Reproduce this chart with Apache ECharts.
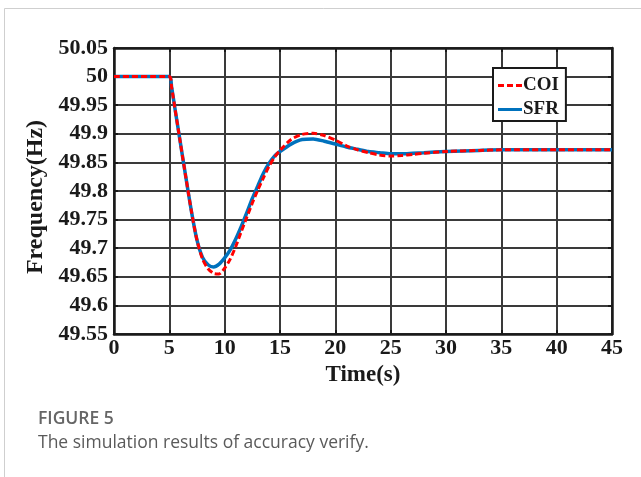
<!DOCTYPE html>
<html lang="en">
<head>
  <meta http-equiv="Content-Type" content="text/html; charset=UTF-8">
  <title>Figure 5</title>
  <style>
    html, body { margin: 0; padding: 0; background: #fff; }
  </style>
</head>
<body>
  <div id="chart" style="width: 641px; height: 477px;"></div>
  <script src="https://cdn.jsdelivr.net/npm/echarts@6/dist/echarts.min.js"></script>
  <script>
    // time axis (s)
    const time = [0, 5, 5.2, 5.5, 6, 6.5, 7, 7.5, 8, 8.5, 9, 9.5, 10, 10.5, 11, 11.5, 12, 12.5, 13, 13.5,
      14, 14.5, 15, 16, 17, 18, 19, 20, 21, 22, 23, 24, 25, 26, 27, 28, 30, 33, 35, 40, 45];
    // frequency of centre of inertia
    const coi = [50, 50, 49.982, 49.945, 49.884, 49.823, 49.764, 49.714, 49.681, 49.664, 49.656, 49.655, 49.665, 49.681, 49.703, 49.729, 49.754, 49.779, 49.802, 49.823,
      49.843, 49.859, 49.871, 49.89, 49.899, 49.901, 49.897, 49.889, 49.879, 49.872, 49.867, 49.863, 49.861, 49.862, 49.864, 49.866, 49.869, 49.871, 49.872, 49.872, 49.872];
    // system frequency response model
    const sfr = [50, 50, 49.982, 49.945, 49.884, 49.823, 49.764, 49.714, 49.684, 49.671, 49.667, 49.672, 49.683, 49.697, 49.716, 49.738, 49.762, 49.787, 49.809, 49.831,
      49.848, 49.861, 49.869, 49.882, 49.89, 49.891, 49.887, 49.882, 49.877, 49.873, 49.869, 49.867, 49.865, 49.865, 49.866, 49.867, 49.869, 49.871, 49.872, 49.872, 49.872];
    const names = ['COI', 'SFR'];

    const serif = '"Liberation Serif", "Times New Roman", serif';
    const sans = '"Open Sans", "Noto Sans", sans-serif';
    const ink = '#1a1a1a';
    const gridColor = '#3a3a3a';

    // legend swatches: dashed red and solid blue
    const dashIcon = 'path://M0,0h6v3h-6z M9,0h6v3h-6z M18,0h6v3h-6z';
    const lineIcon = 'path://M0,0h24v3h-24z';

    const myChart = echarts.init(document.getElementById('chart'));
    const option = {
      animation: false,
      grid: { left: 114, right: 29, top: 48, bottom: 143, containLabel: false },
      legend: {
        data: [{ name: names[0], icon: dashIcon }, { name: names[1], icon: lineIcon }],
        orient: 'vertical',
        left: 493,
        top: 68,
        itemWidth: 24,
        itemHeight: 14,
        itemGap: 5,
        padding: [8, 7, 2, 5],
        backgroundColor: '#fff',
        borderColor: ink,
        borderWidth: 2,
        borderRadius: 0,
        textStyle: { fontFamily: serif, fontWeight: 'bold', fontSize: 19, lineHeight: 18, color: ink, padding: [0, 0, 0, -4] }
      },
      xAxis: [{
        type: 'value',
        min: 0, max: 45, interval: 5,
        name: 'Time(s)',
        nameLocation: 'middle',
        nameGap: 21,
        nameTextStyle: { fontFamily: serif, fontWeight: 'bold', fontSize: 23, color: ink },
        axisLine: { show: true, onZero: false, lineStyle: { color: ink, width: 2.5 } },
        axisTick: { show: true, inside: true, length: 4, lineStyle: { color: ink, width: 2 } },
        axisLabel: { margin: 3, fontFamily: serif, fontWeight: 'bold', fontSize: 22, color: ink },
        splitLine: { show: true, lineStyle: { color: gridColor, width: 2 } }
      }, {
        type: 'value', position: 'top',
        min: 0, max: 45, interval: 5,
        axisLine: { show: true, onZero: false, lineStyle: { color: ink, width: 2.5 } },
        axisTick: { show: true, inside: true, length: 4, lineStyle: { color: ink, width: 2 } },
        axisLabel: { show: false },
        splitLine: { show: false }
      }],
      yAxis: [{
        type: 'value',
        min: 49.55, max: 50.05, interval: 0.05,
        name: 'Frequency(Hz)',
        nameLocation: 'middle',
        nameGap: 64,
        nameTextStyle: { fontFamily: serif, fontWeight: 'bold', fontSize: 24, color: ink, padding: [0, 12, 0, 0] },
        axisLine: { show: true, onZero: false, lineStyle: { color: ink, width: 2.5 } },
        axisTick: { show: true, inside: true, length: 4, lineStyle: { color: ink, width: 2 } },
        axisLabel: {
          margin: 6, fontFamily: serif, fontWeight: 'bold', fontSize: 22, color: ink,
          formatter: (v) => String(+v.toFixed(2))
        },
        splitLine: { show: true, lineStyle: { color: gridColor, width: 2 } }
      }, {
        type: 'value', position: 'right',
        min: 49.55, max: 50.05, interval: 0.05,
        axisLine: { show: true, onZero: false, lineStyle: { color: ink, width: 2.5 } },
        axisTick: { show: true, inside: true, length: 4, lineStyle: { color: ink, width: 2 } },
        axisLabel: { show: false },
        splitLine: { show: false }
      }],
      series: [{
        name: 'SFR',
        type: 'line',
        showSymbol: false,
        symbol: 'none',
        smooth: 0.25,
        lineStyle: { color: '#0072BD', width: 3.5 },
        itemStyle: { color: '#0072BD' },
        data: time.map((t, i) => [t, sfr[i]]),
        z: 2
      }, {
        name: 'COI',
        type: 'line',
        showSymbol: false,
        symbol: 'none',
        smooth: 0.25,
        lineStyle: { color: '#ff0000', width: 3, type: [6, 3] },
        itemStyle: { color: '#ff0000' },
        data: time.map((t, i) => [t, coi[i]]),
        z: 3
      }],
      graphic: [{
        type: 'rect',
        shape: { x: 4.5, y: 8.5, width: 700, height: 600 },
        style: { fill: 'none', stroke: '#cfcfcf', lineWidth: 1 },
        silent: true
      }, {
        type: 'text',
        left: 38, top: 410,
        style: { text: 'FIGURE 5', fontFamily: sans, fontSize: 17.5, fontWeight: 600, fill: '#666' }
      }, {
        type: 'text',
        left: 38, top: 434,
        style: { text: 'The simulation results of accuracy verify.', fontFamily: sans, fontSize: 17.5, fill: '#5a5a5a' }
      }]
    };
    myChart.setOption(option);
  </script>
</body>
</html>
